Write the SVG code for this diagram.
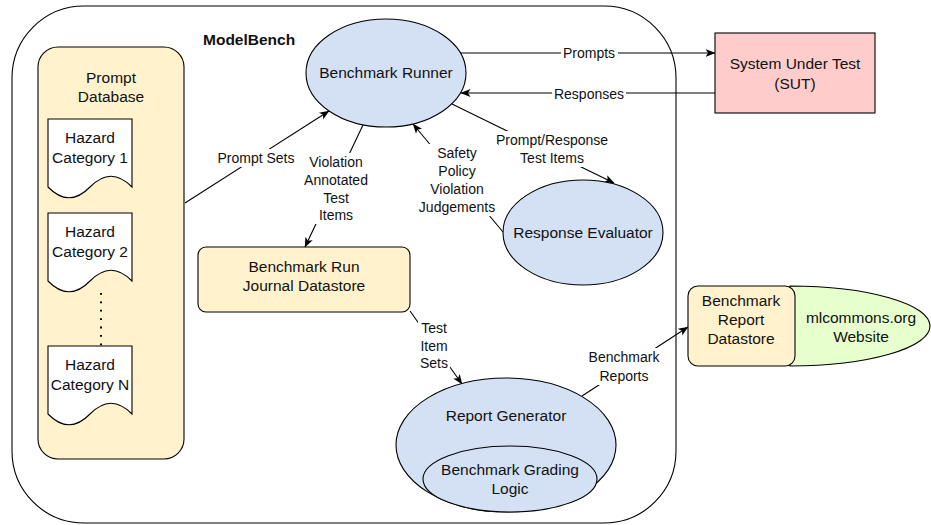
<svg xmlns="http://www.w3.org/2000/svg" width="931" height="525" viewBox="0 0 931 525">
<style>
text{font-family:"Liberation Sans",Arial,Helvetica,sans-serif;fill:#111;text-anchor:middle;dominant-baseline:central}
.n{font-size:15.5px}
.e{font-size:14px}
.b{font-size:15.5px;font-weight:bold;text-anchor:start}
.sh{stroke:#000;stroke-width:1.1}
.blue{fill:#d4e1f5}
.yel{fill:#fff2cc}
.ln{fill:none;stroke:#000;stroke-width:1.1}
.arr{marker-end:url(#ah)}
.bg{fill:#fff}
</style>
<defs>
<marker id="ah" viewBox="0 0 10 10" refX="9.5" refY="5" markerWidth="10" markerHeight="10" markerUnits="userSpaceOnUse" orient="auto">
<path d="M0,1 L10,5 L0,9 L2.5,5 Z" fill="#000"/>
</marker>
</defs>
<rect width="931" height="525" fill="#fff"/>

<g id="modelbench">
<rect x="12" y="6" width="664" height="517" rx="72" ry="72" fill="#fff" class="sh"/>
<text class="b" x="203" y="39">ModelBench</text>
</g>

<g id="connectors">
<line class="ln arr" x1="459" y1="53" x2="715" y2="53"/>
<line class="ln arr" x1="715" y1="93" x2="461" y2="93"/>
<line class="ln arr" x1="452" y1="104" x2="614" y2="183"/>
<line class="ln arr" x1="503" y1="232" x2="413" y2="124"/>
<line class="ln arr" x1="363" y1="125" x2="305" y2="247"/>
<line class="ln arr" x1="185" y1="203" x2="329" y2="111"/>
<line class="ln arr" x1="410" y1="311" x2="462" y2="384"/>
<line class="ln arr" x1="582" y1="396" x2="688" y2="327"/>
<rect class="bg" x="561" y="45" width="57" height="16"/>
<text class="e" x="589" y="53">Prompts</text>
<rect class="bg" x="552" y="85" width="74" height="16"/>
<text class="e" x="589" y="94">Responses</text>
<rect class="bg" x="492" y="131" width="121" height="36"/>
<text class="e" x="552" y="140">Prompt/Response</text>
<text class="e" x="552" y="158">Test Items</text>
<rect class="bg" x="416" y="144" width="82" height="72"/>
<text class="e" x="457" y="153">Safety</text>
<text class="e" x="457" y="171">Policy</text>
<text class="e" x="457" y="189">Violation</text>
<text class="e" x="457" y="207">Judgements</text>
<rect class="bg" x="302" y="153" width="68" height="71"/>
<text class="e" x="336" y="162">Violation</text>
<text class="e" x="336" y="180">Annotated</text>
<text class="e" x="336" y="198">Test</text>
<text class="e" x="336" y="215">Items</text>
<rect class="bg" x="215" y="149" width="82" height="18"/>
<text class="e" x="256" y="158">Prompt Sets</text>
<rect class="bg" x="418" y="320" width="32" height="50"/>
<text class="e" x="434" y="328">Test</text>
<text class="e" x="434" y="346">Item</text>
<text class="e" x="434" y="363">Sets</text>
<rect class="bg" x="586" y="348" width="76" height="37"/>
<text class="e" x="624" y="357">Benchmark</text>
<text class="e" x="624" y="376">Reports</text>
</g>

<g id="prompt-database">
<rect x="38" y="47" width="146" height="412" rx="20" ry="20" class="sh yel"/>
<text class="n" x="111" y="77">Prompt</text>
<text class="n" x="111" y="96">Database</text>
</g>

<g id="hazard-1">
<path d="M48,119 L132,119 L132,187 Q111,165.4 90,187 Q69,208.6 48,187 Z" fill="#fff" class="sh"/>
<text class="n" x="90" y="137">Hazard</text>
<text class="n" x="90" y="157">Category 1</text>
</g>

<g id="hazard-2">
<path d="M48,213 L132,213 L132,281 Q111,259.4 90,281 Q69,302.6 48,281 Z" fill="#fff" class="sh"/>
<text class="n" x="90" y="231">Hazard</text>
<text class="n" x="90" y="251">Category 2</text>
</g>

<g id="ellipsis-dots">
<line x1="101" y1="293" x2="101" y2="346" stroke="#000" stroke-width="2" stroke-dasharray="1.8 6.6"/>
</g>

<g id="hazard-n">
<path d="M48,346 L132,346 L132,414 Q111,392.4 90,414 Q69,435.6 48,414 Z" fill="#fff" class="sh"/>
<text class="n" x="90" y="364">Hazard</text>
<text class="n" x="90" y="384">Category N</text>
</g>

<g id="benchmark-runner">
<ellipse cx="386" cy="73" rx="80" ry="54" class="sh blue"/>
<text class="n" x="386" y="72">Benchmark Runner</text>
</g>

<g id="sut">
<rect x="715" y="33" width="160" height="80" fill="#ffcccc" class="sh"/>
<text class="n" x="795" y="63">System Under Test</text>
<text class="n" x="795" y="83">(SUT)</text>
</g>

<g id="response-evaluator">
<ellipse cx="583" cy="232.5" rx="80" ry="52.5" class="sh blue"/>
<text class="n" x="583" y="232">Response Evaluator</text>
</g>

<g id="journal-datastore">
<rect x="198" y="247" width="212" height="65" rx="8" ry="8" class="sh yel"/>
<text class="n" x="304" y="266">Benchmark Run</text>
<text class="n" x="304" y="285">Journal Datastore</text>
</g>

<g id="report-generator">
<ellipse cx="506" cy="445" rx="110" ry="67" class="sh blue"/>
<text class="n" x="506" y="415">Report Generator</text>
</g>

<g id="grading-logic">
<ellipse cx="510" cy="479" rx="87" ry="33" class="sh blue"/>
<text class="n" x="510" y="469">Benchmark Grading</text>
<text class="n" x="510" y="488">Logic</text>
</g>

<g id="mlcommons-website">
<path d="M790,286 A140,40 0 0 1 790,366 Z" fill="#e6ffcc" class="sh"/>
<text class="n" x="861" y="317">mlcommons.org</text>
<text class="n" x="861" y="336">Website</text>
</g>

<g id="report-datastore">
<rect x="688" y="286" width="107" height="80" rx="10" ry="10" class="sh yel"/>
<text class="n" x="741" y="300">Benchmark</text>
<text class="n" x="741" y="319">Report</text>
<text class="n" x="741" y="338">Datastore</text>
</g>
</svg>
